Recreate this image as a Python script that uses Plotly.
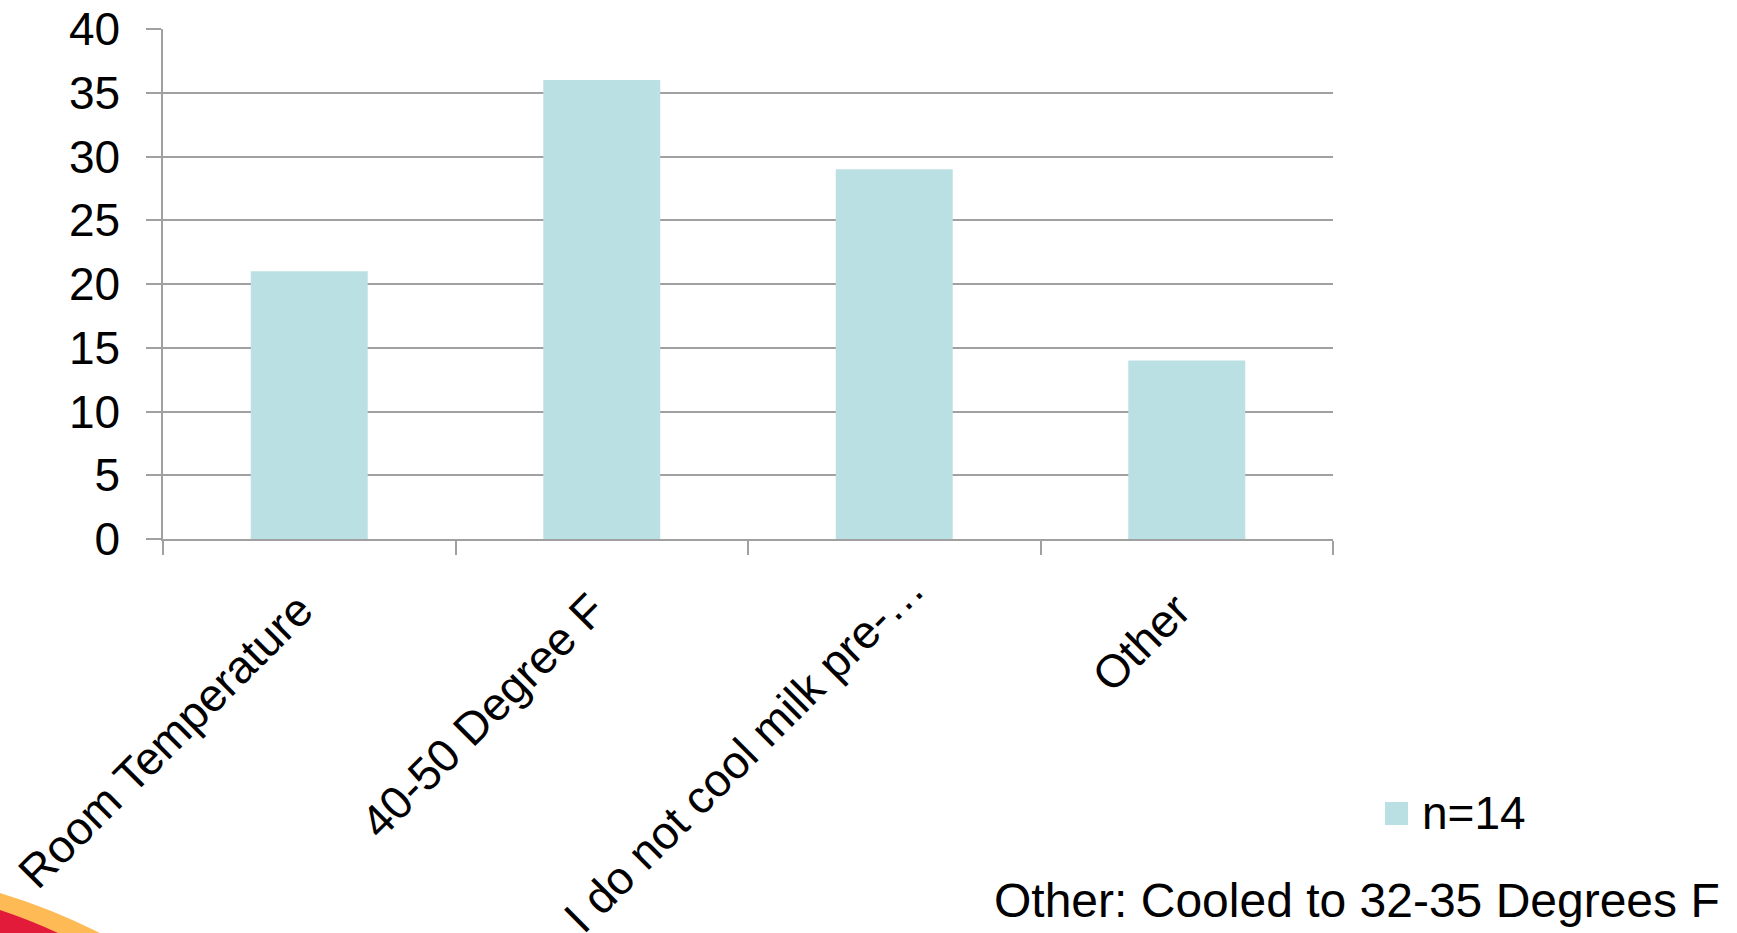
import plotly.graph_objects as go

categories = ["Room Temperature", "40-50 Degree F", "I do not cool milk pre-…", "Other"]
values = [21, 36, 29, 14]
series_name = "n=14"
y_ticks = [0, 5, 10, 15, 20, 25, 30, 35, 40]
note_text = "Other: Cooled to 32-35 Degrees F"

W, H = 1737, 933
ML, MT = 163, 29
PW, PH = 1170, 510
MR = W - ML - PW
MB = H - MT - PH

def px(x):
    return (x - ML) / PW

def py(y):
    return (H - MB - y) / PH

FONT = "Liberation Sans, Arial, sans-serif"
BAR_COLOR = "#BBE0E3"
GRID = "#A0A0A0"

# label 3 is placed separately (its slide text box sits lower/further right)
tick_text = [c if i != 2 else "" for i, c in enumerate(categories)]

fig = go.Figure()
fig.add_trace(go.Bar(
    x=categories, y=values, name=series_name,
    marker=dict(color=BAR_COLOR, line=dict(width=0)),
    showlegend=False,
))

fig.update_layout(
    width=W, height=H,
    margin=dict(l=ML, r=MR, t=MT, b=MB, autoexpand=False),
    paper_bgcolor="white", plot_bgcolor="white",
    bargap=0.6,
    font=dict(family=FONT, size=46, color="black"),
    xaxis=dict(
        type="category", showgrid=False, showline=True, linecolor=GRID, linewidth=1.5,
        ticks="outside", ticklen=14, tickcolor=GRID, tickwidth=1.5, tickson="boundaries",
        tickmode="array", tickvals=categories, ticktext=tick_text,
        tickangle=-45, tickfont=dict(size=46, family=FONT, color="black"),
        automargin=False, ticklabelstandoff=24, ticklabelshift=-10,
        ticklabeloverflow="allow",
    ),
    yaxis=dict(
        range=[0, 40], tickvals=y_ticks, showgrid=True, gridcolor=GRID, gridwidth=1.5,
        showline=True, linecolor=GRID, linewidth=1.5, zeroline=False,
        ticks="outside", ticklen=15, tickcolor=GRID, tickwidth=1.5,
        tickfont=dict(size=46, family=FONT, color="black"),
        automargin=False, ticklabelstandoff=17, ticklabeloverflow="allow",
    ),
)

fig.add_annotation(x=categories[2], xref="x", xshift=-150, y=py(752), yref="paper",
                   text=categories[2], textangle=-45, showarrow=False,
                   xanchor="center", yanchor="middle",
                   font=dict(size=46, family=FONT, color="black"))

# legend (drawn manually to match large swatch)
fig.add_shape(type="rect", xref="paper", yref="paper",
              x0=px(1385), x1=px(1408), y0=py(825), y1=py(802),
              fillcolor=BAR_COLOR, line=dict(width=0))
fig.add_annotation(x=px(1420), y=py(813), xref="paper", yref="paper",
                   text=series_name, showarrow=False, xanchor="left", yanchor="middle",
                   font=dict(size=46, family=FONT, color="black"))

# footnote
fig.add_annotation(x=px(992), y=py(900), xref="paper", yref="paper",
                   text=note_text, showarrow=False, xanchor="left", yanchor="middle",
                   font=dict(size=48, family=FONT, color="black"))

# slide decoration bottom-left
def pt(x, y):
    return f"{px(x):.5f},{py(y):.5f}"

yellow = f"M {pt(0, 893)} Q {pt(50, 908)} {pt(100, 933)} L {pt(0, 933)} Z"
red = f"M {pt(0, 910)} Q {pt(30, 920)} {pt(58, 933)} L {pt(0, 933)} Z"
fig.add_shape(type="path", xref="paper", yref="paper", path=yellow,
              fillcolor="#FDBA55", line=dict(width=0), layer="above")
fig.add_shape(type="path", xref="paper", yref="paper", path=red,
              fillcolor="#E31B3B", line=dict(width=0), layer="above")

fig.write_html(
    "out.html",
    config={"displayModeBar": False},
    post_script="document.body.style.margin='0';document.body.style.overflow='hidden';",
)
